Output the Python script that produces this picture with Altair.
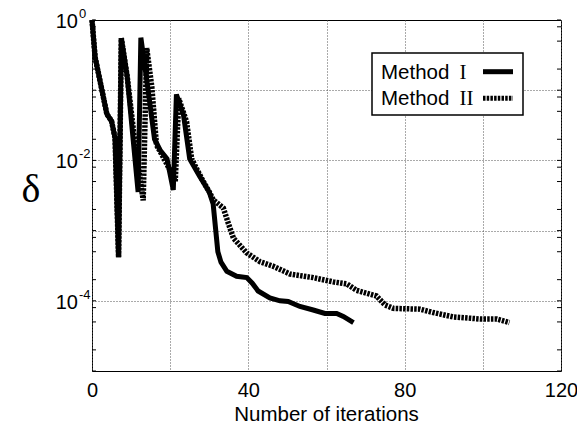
import altair as alt
import pandas as pd

# ---- data ----
iter_I = [0, 0.8, 3.8, 5.0, 5.9, 6.8, 7.5, 9.0, 11.8, 12.5, 14.0, 16.0, 17.5, 19.2,
          20.8, 21.6, 23.4, 25.0, 27.5, 30.0, 31.0, 32.2, 33.0, 34.5, 37.0, 39.6,
          41.0, 42.5, 45.5, 48.1, 50.2, 53.2, 56.6, 59.6, 62.6, 64.3, 66.9]
delta_I = [1.0, 0.295, 0.0457, 0.0363, 0.0209, 4.17e-4, 0.55, 0.158, 3.55e-3, 0.56,
           0.141, 0.020, 0.0138, 0.0105, 3.8e-3, 0.087, 0.0447, 0.0105, 6.0e-3,
           3.55e-3, 2.4e-3, 5.0e-4, 3.55e-4, 2.63e-4, 2.24e-4, 2.14e-4, 1.78e-4,
           1.38e-4, 1.10e-4, 1.0e-4, 9.8e-5, 8.3e-5, 7.4e-5, 6.6e-5, 6.6e-5, 6.0e-5, 4.9e-5]

iter_II = [0, 0.8, 3.8, 5.0, 5.9, 6.8, 7.5, 9.0, 11.0, 13.1, 14.0, 15.3, 16.5, 18.2,
           20.0, 21.3, 22.2, 24.2, 25.5, 28.0, 30.2, 31.0, 33.6, 34.9, 36.2, 39.6,
           43.0, 46.4, 50.7, 56.6, 61.7, 65.2, 67.7, 72.8, 75.0, 77.1, 83.9, 87.3,
           92.4, 99.3, 103.6, 106.8]
delta_II = [1.0, 0.295, 0.0457, 0.0363, 0.0209, 4.17e-4, 0.55, 0.158, 0.0174, 2.7e-3,
            0.398, 0.112, 0.0166, 0.0112, 7.2e-3, 5.0e-3, 0.076, 0.0355, 0.0105, 5.6e-3,
            3.4e-3, 2.75e-3, 2.1e-3, 1.26e-3, 7.8e-4, 4.8e-4, 3.6e-4, 3.1e-4, 2.4e-4,
            2.14e-4, 1.86e-4, 1.74e-4, 1.41e-4, 1.17e-4, 8.7e-5, 7.8e-5, 7.6e-5, 6.8e-5,
            5.9e-5, 5.5e-5, 5.5e-5, 4.9e-5]

x_ticks = [0, 20, 40, 60, 80, 100, 120]
y_grid = [1e-1, 1e-2, 1e-3, 1e-4]
y_label_vals = [1.0, 1e-2, 1e-4]
y_label_exps = ["0", "-2", "-4"]
y_minor = [1.0, 0.8, 0.5, 0.2, 0.1, 0.08, 0.05, 0.02, 0.01, 0.008, 0.005, 0.002,
           1e-3, 8e-4, 5e-4, 2e-4, 1e-4, 8e-5, 5e-5, 2e-5, 1e-5]
legend_names = ["Method", "Method"]
legend_roman = ["I", "II"]

W, H = 469, 351
SANS = "Liberation Sans"
SERIF = "Liberation Serif"

xs = alt.Scale(domain=[0, 120], nice=False, zero=False)
ys = alt.Scale(type="log", domain=[1e-5, 1], nice=False)

df1 = pd.DataFrame({"it": iter_I, "d": delta_I})
df2 = pd.DataFrame({"it": iter_II, "d": delta_II})
one = pd.DataFrame({"k": [0]})

x_axis = alt.Axis(values=x_ticks, grid=True, gridDash=[1, 2], gridColor="#555",
                  gridWidth=1, domain=False, ticks=False, tickSize=0,
                  labelExpr="datum.value % 40 == 0 ? datum.label : ''",
                  labelFont=SANS, labelFontSize=20, labelColor="black",
                  labelPadding=9, labelFlush=False, labelOverlap=False, title=None)
y_axis = alt.Axis(values=y_grid, grid=True, gridDash=[1, 2], gridColor="#555",
                  gridWidth=1, domain=False, ticks=False, labels=False, title=None)

base_grid = alt.Chart(df1).mark_line(opacity=0).encode(
    x=alt.X("it:Q", scale=xs, axis=x_axis),
    y=alt.Y("d:Q", scale=ys, axis=y_axis),
)

line1 = alt.Chart(df1).mark_line(color="black", strokeWidth=5, strokeJoin="miter").encode(
    x=alt.X("it:Q", scale=xs),
    y=alt.Y("d:Q", scale=ys),
)
line2 = alt.Chart(df2).mark_line(color="black", strokeWidth=5.5, strokeDash=[2.5, 1.2],
                                 strokeCap="butt", strokeJoin="miter").encode(
    x=alt.X("it:Q", scale=xs),
    y=alt.Y("d:Q", scale=ys),
)

minor = pd.DataFrame({"v": y_minor})
ticks_left = alt.Chart(minor).mark_rule(color="black", strokeWidth=1).encode(
    y=alt.Y("v:Q", scale=ys), x=alt.value(0), x2=alt.value(4))
ticks_right = alt.Chart(minor).mark_rule(color="black", strokeWidth=1).encode(
    y=alt.Y("v:Q", scale=ys), x=alt.value(W - 4), x2=alt.value(W))

ylab = pd.DataFrame({"v": y_label_vals, "e": y_label_exps, "t": ["10"] * 3})
ylab_base = alt.Chart(ylab).mark_text(align="right", baseline="middle", font=SANS,
                                      fontSize=20, dy=2, color="black").encode(
    y=alt.Y("v:Q", scale=ys), x=alt.value(-14), text="t:N")
ylab_exp = alt.Chart(ylab).mark_text(align="left", baseline="middle", font=SANS,
                                     fontSize=13, dy=-6, color="black").encode(
    y=alt.Y("v:Q", scale=ys), x=alt.value(-13), text="e:N")

xtitle = alt.Chart(one).mark_text(text="Number of iterations", font=SANS, fontSize=20.5,
                                  align="center", baseline="alphabetic", color="black").encode(
    x=alt.value(W / 2), y=alt.value(H + 50))
ytitle = alt.Chart(one).mark_text(text="δ", font=SERIF, fontSize=40, align="center",
                                  baseline="middle", color="black").encode(
    x=alt.value(-61), y=alt.value(170))

# legend box
leg_box = alt.Chart(one).mark_rect(fill="white", stroke="black", strokeWidth=1.5).encode(
    x=alt.value(280), x2=alt.value(431), y=alt.value(33), y2=alt.value(95))
leg_df = pd.DataFrame({"n": legend_names, "r": legend_roman})
leg_txt1 = alt.Chart(leg_df.iloc[[0]]).mark_text(align="left", baseline="alphabetic", font=SANS,
                                               fontSize=20.5, color="black").encode(
    x=alt.value(289), y=alt.value(58.5), text="n:N")
leg_txt2 = alt.Chart(leg_df.iloc[[1]]).mark_text(align="left", baseline="alphabetic", font=SANS,
                                               fontSize=20.5, color="black").encode(
    x=alt.value(289), y=alt.value(84.5), text="n:N")
leg_rom1 = alt.Chart(leg_df.iloc[[0]]).mark_text(align="left", baseline="alphabetic", font=SERIF,
                                               fontSize=21, color="black").encode(
    x=alt.value(367.5), y=alt.value(58.5), text="r:N")
leg_rom2 = alt.Chart(leg_df.iloc[[1]]).mark_text(align="left", baseline="alphabetic", font=SERIF,
                                               fontSize=21, color="black").encode(
    x=alt.value(367.5), y=alt.value(84.5), text="r:N")
leg_l1 = alt.Chart(one).mark_rule(color="black", strokeWidth=5).encode(
    x=alt.value(391), x2=alt.value(421), y=alt.value(51.7))
leg_l2 = alt.Chart(one).mark_rule(color="black", strokeWidth=5, strokeDash=[2.5, 1.2],
                                  strokeCap="butt").encode(
    x=alt.value(391), x2=alt.value(421), y=alt.value(78.3))

chart = alt.layer(
    base_grid, ticks_left, ticks_right, line1, line2, ylab_base, ylab_exp,
    xtitle, ytitle, leg_box, leg_txt1, leg_txt2, leg_rom1, leg_rom2, leg_l1, leg_l2
).properties(
    width=W, height=H,
    autosize=alt.AutoSizeParams(type="none"),
    padding={"left": 92, "top": 20, "right": 16, "bottom": 54},
    background="white",
).configure_view(stroke="black", strokeWidth=1)

chart.save("out.html", embed_options={"renderer": "svg", "actions": False})
